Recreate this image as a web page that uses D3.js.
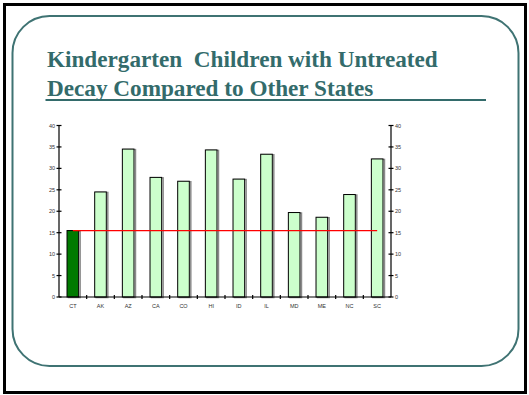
<!DOCTYPE html>
<html><head><meta charset="utf-8">
<script src="https://cdn.jsdelivr.net/npm/d3@7"></script>
<style>html,body{margin:0;padding:0;background:#fff;}svg{display:block;}
.ttl{font-family:"Liberation Serif","Times New Roman",Times,serif;font-weight:bold;white-space:pre;}
.lab{font-family:"Liberation Sans",Arial,Helvetica,sans-serif;}
</style>
</head><body>
<script>
const titleLines = ["Kindergarten  Children with Untreated", "Decay Compared to Other States"];
const states = ["CT","AK","AZ","CA","CO","HI","ID","IL","MD","ME","NC","SC"];
const decay = [15.5, 24.5, 34.5, 27.9, 27.0, 34.3, 27.5, 33.3, 19.7, 18.6, 23.9, 32.2];
const ctValue = 15.5;
const yTicks = [0,5,10,15,20,25,30,35,40];

const W = 529, H = 395;
const svg = d3.select("body").append("svg").attr("width", W).attr("height", H);

// outer frame
svg.append("rect").attr("x",4.5).attr("y",4.5).attr("width",521).attr("height",388)
  .attr("fill","none").attr("stroke","#000").attr("stroke-width",3);
// rounded panel
svg.append("rect").attr("x",12.5).attr("y",16).attr("width",506).attr("height",350)
  .attr("rx",37).attr("ry",37).attr("fill","none").attr("stroke","#3f7373").attr("stroke-width",2);

// title
const teal = "#336b6b";
const tg = svg.append("g");
titleLines.forEach((t,i)=>{
  tg.append("text").attr("class","ttl").attr("x",47).attr("y",[67,96][i]).text(t)
    .attr("fill",teal).attr("font-size",21);
});
const first = tg.select("text").node();
const wl = first.getComputedTextLength();
const fs = Math.max(18, Math.min(24, 21*391/wl));
tg.selectAll("text").attr("font-size",fs);
svg.append("line").attr("x1",45.5).attr("x2",486).attr("y1",100).attr("y2",100)
  .attr("stroke",teal).attr("stroke-width",2);

// chart
const x0 = 59, x1 = 391, y0 = 297, y1 = 125.5;
const x = d3.scaleBand().domain(states).range([x0,x1]).paddingInner(0.58).paddingOuter(0.29);
const y = d3.scaleLinear().domain([0,40]).range([y0,y1]);
const step = x.step();

const g = svg.append("g");
g.selectAll("rect.sh").data(states).join("rect").attr("class","sh")
  .attr("x",d=>x(d)+1.5).attr("y",(d,i)=>y(decay[i])+0.5)
  .attr("width",x.bandwidth()).attr("height",(d,i)=>y0-y(decay[i]))
  .attr("fill","none").attr("stroke","#8a8a8a").attr("stroke-width",1.5);
g.selectAll("rect.bar").data(states).join("rect").attr("class","bar")
  .attr("x",d=>x(d)).attr("y",(d,i)=>y(decay[i]))
  .attr("width",x.bandwidth()).attr("height",(d,i)=>y0-y(decay[i]))
  .attr("fill",(d,i)=>i===0?"#007a00":"#ccffcc").attr("stroke","#000").attr("stroke-width",1);

g.append("line").attr("x1",x(states[0])+x.bandwidth()/2).attr("x2",x(states[states.length-1])+x.bandwidth()/2)
  .attr("y1",y(ctValue)).attr("y2",y(ctValue)).attr("stroke","#ff0000").attr("stroke-width",1.2);

const ax = svg.append("g").attr("stroke","#000").attr("stroke-width",1.2);
ax.append("line").attr("x1",x0).attr("x2",x0).attr("y1",y1).attr("y2",y0);
ax.append("line").attr("x1",x1).attr("x2",x1).attr("y1",y1).attr("y2",y0);
ax.append("line").attr("x1",x0).attr("x2",x1).attr("y1",y0).attr("y2",y0);
yTicks.forEach(v=>{
  [x0,x1].forEach(xx=>{
    ax.append("line").attr("x1",xx-2.5).attr("x2",xx+2.5).attr("y1",y(v)).attr("y2",y(v));
  });
});
states.forEach((d,i)=>{
  if(i===0) return;
  const bx = x(d)+x.bandwidth()/2 - step/2;
  ax.append("line").attr("x1",bx).attr("x2",bx).attr("y1",y0-2).attr("y2",y0+2);
});

const lab = svg.append("g").attr("class","lab").attr("font-size",5.5).attr("fill","#333");
yTicks.forEach(v=>{
  lab.append("text").attr("x",x0-4).attr("y",y(v)+2).attr("text-anchor","end").text(v);
  lab.append("text").attr("x",x1+4).attr("y",y(v)+2).attr("text-anchor","start").text(v);
});
states.forEach(d=>{
  lab.append("text").attr("x",x(d)+x.bandwidth()/2).attr("y",308).attr("text-anchor","middle").text(d);
});
</script>
</body></html>
